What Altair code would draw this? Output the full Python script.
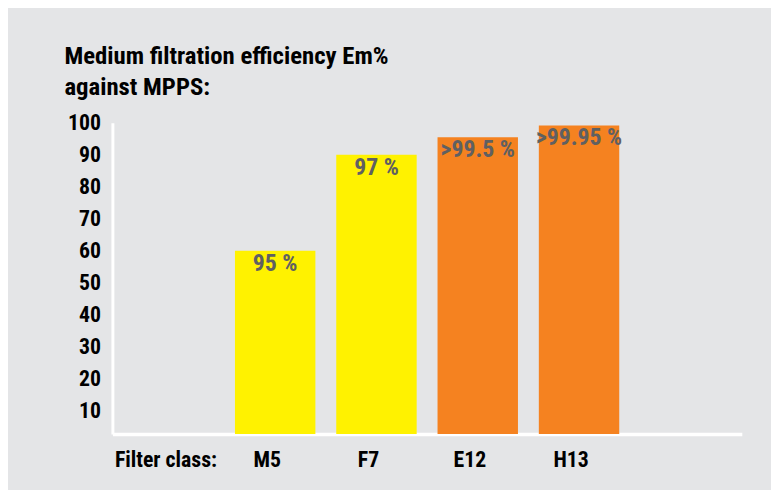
import altair as alt
import pandas as pd

# ---- data ----
classes = ["M5", "F7", "E12", "H13"]
efficiency = [60, 90, 95.5, 99.2]
bar_labels = ["95 %", "97 %", ">99.5 %", ">99.95 %"]
bar_colors = ["#fff200", "#fff200", "#f58220", "#f58220"]
x_domain = ["Filter class:", "M5", "F7", "E12", "H13", " "]
y_ticks = [10, 20, 30, 40, 50, 60, 70, 80, 90, 100]
y_min, y_max = 2.7, 100
title_lines = ["Medium filtration efficiency Em%", "against MPPS:"]

df = pd.DataFrame({"cls": classes, "eff": efficiency, "lab": bar_labels, "col": bar_colors})

FONT = "Roboto Condensed, Liberation Sans Narrow, sans-serif"
x_scale = alt.Scale(domain=x_domain, paddingInner=0.206, paddingOuter=0.21)
y_scale = alt.Scale(domain=[y_min, y_max], zero=False, nice=False)

x_enc = alt.X(
    "cls:N",
    scale=x_scale,
    axis=alt.Axis(
        title=None, labelAngle=0, ticks=False, domainColor="white", domainWidth=3.5,
        labelFont=FONT, labelFontSize=22, labelFontWeight="bold", labelColor="#000000",
        labelPadding=16, labelOffset=-8, labelOverlap=False,
    ),
)
y_enc = alt.Y(
    "eff:Q",
    scale=y_scale,
    axis=alt.Axis(
        title=None, values=y_ticks, ticks=False, grid=False, domainColor="white", domainWidth=3,
        labelFont=FONT, labelFontSize=22, labelFontWeight="bold", labelColor="#000000",
        labelPadding=12, labelOverlap=False,
    ),
)

bars = alt.Chart(df).mark_bar().encode(
    x=x_enc,
    y=y_enc,
    y2=alt.datum(y_min),
    color=alt.Color("col:N", scale=None, legend=None),
)

texts = alt.Chart(df).mark_text(
    font=FONT, fontSize=24, fontWeight="bold", color="#5f6062", baseline="top", dy=1,
).encode(
    x=x_enc,
    y=y_enc,
    text="lab:N",
)

chart = alt.layer(bars, texts).properties(
    width=636,
    height=314.5,
    title=alt.TitleParams(
        text=title_lines, anchor="start", frame="group", dx=-48.5, offset=12,
        font=FONT, fontSize=25, fontWeight="bold", color="#000000", lineHeight=31.5,
    ),
    padding={"left": 105.5, "top": 113.5, "right": 29.5, "bottom": 54},
    autosize=alt.AutoSizeParams(type="none"),
    background="#e4e5e7",
).configure_view(stroke=None).configure_axis(labelOverlap=False, labelBound=False, labelFlush=False)

chart.save("out.html", embed_options={"renderer": "svg", "actions": False})
